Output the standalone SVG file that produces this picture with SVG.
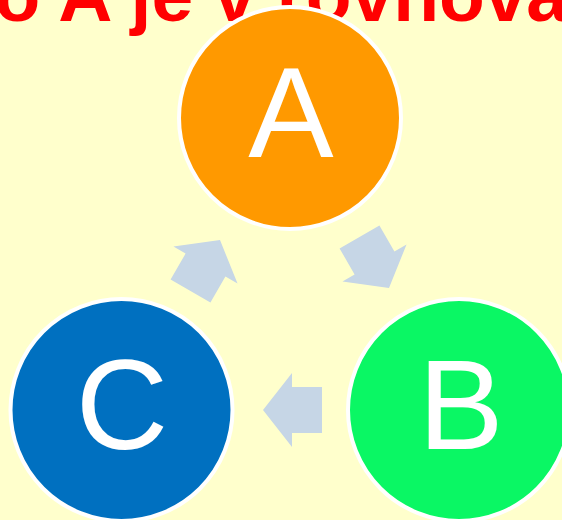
<svg xmlns="http://www.w3.org/2000/svg" width="562" height="520" viewBox="0 0 562 520">
<style>
.title{font-family:"Liberation Sans",Arial,sans-serif;font-weight:bold;font-size:75px;fill:#FF0000}
.node circle{stroke:#FFFFFF;stroke-width:4}
.lbl{font-family:"Liberation Sans",Arial,sans-serif;font-size:128px;fill:#FFFFFF;text-anchor:middle}
.arrow{fill:#C6D6E6}
</style>
<defs>
<polygon id="blk" points="0,0 -29,-37 -29,-23 -59,-23 -59,23 -29,23 -29,37"/>
</defs>
<rect width="562" height="520" fill="#FFFFCC"/>
<text class="title" x="-5.5" y="21">o A je v rovnová</text>
<g id="connectors" class="arrow">
<use href="#blk" transform="translate(389,288) rotate(60)"/>
<use href="#blk" transform="translate(263,410) rotate(180)"/>
<use href="#blk" transform="translate(220,240) rotate(-60)"/>
</g>
<g id="nodeA" class="node">
<circle cx="290" cy="118" r="111" fill="#FF9900"/>
<text class="lbl" x="291" y="157">A</text>
</g>
<g id="nodeB" class="node">
<circle cx="459" cy="410" r="111" fill="#0AF764"/>
<text class="lbl" x="461" y="449">B</text>
</g>
<g id="nodeC" class="node">
<circle cx="121.5" cy="410" r="111" fill="#0070C0"/>
<text class="lbl" x="122" y="449">C</text>
</g>
</svg>
